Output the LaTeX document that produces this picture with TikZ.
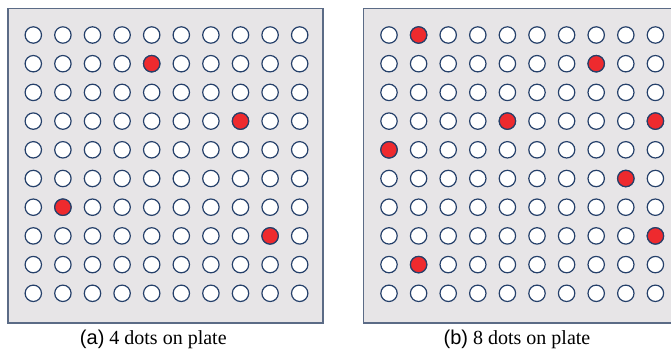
\documentclass[tikz,border=0pt]{standalone}
\usepackage{fontspec}
\setmainfont{Liberation Serif}
\newfontfamily\labelsans{Liberation Sans}

\definecolor{platebg}{HTML}{E7E5E7}
\definecolor{plateedge}{HTML}{5B6B86}
\definecolor{dotedge}{HTML}{25406A}
\definecolor{dotred}{HTML}{EE2A2E}

\begin{document}
\begin{tikzpicture}[x=1pt, y=-1pt,
	every node/.style={font=\fontsize{20}{23}\selectfont},
	plate/.style={draw=plateedge, fill=platebg, line width=1.3pt, minimum width=315pt, minimum height=314.5pt, inner sep=0pt},
	dot/.style={circle, draw=dotedge, fill=white, line width=1.2pt, minimum size=16.4pt, inner sep=0pt},
	hit/.style={dot, fill=dotred}]
	\useasboundingbox (0,0) rectangle (671,353);
	\clip (0,0) rectangle (671,353);
	% the two plates
	\node[plate] (plateA) at (165.5,165.75) {};
	\node[plate] (plateB) at (521,165.75) {};
	% 10x10 wells on each plate
	\foreach \r in {1,...,10} {
		\foreach \c in {1,...,10} {
			\node[dot] (a-\r-\c) at ({33.3+29.6*(\c-1)},{35+28.7*(\r-1)}) {};
			\node[dot] (b-\r-\c) at ({389+29.6*(\c-1)},{35+28.7*(\r-1)}) {};
		}
	}
	% filled wells (row/column)
	\foreach \r/\c in {2/5, 4/8, 7/2, 8/9}
		\node[hit] (ha-\r-\c) at (a-\r-\c) {};
	\foreach \r/\c in {1/2, 2/8, 4/5, 4/10, 5/1, 6/9, 8/10, 9/2}
		\node[hit] (hb-\r-\c) at (b-\r-\c) {};
	% captions
	\node[anchor=base] (capA) at (153.3,344.5) {{\labelsans (a)} 4 dots on plate};
	\node[anchor=base] (capB) at (517,344.5) {{\labelsans (b)} 8 dots on plate};
\end{tikzpicture}
\end{document}
